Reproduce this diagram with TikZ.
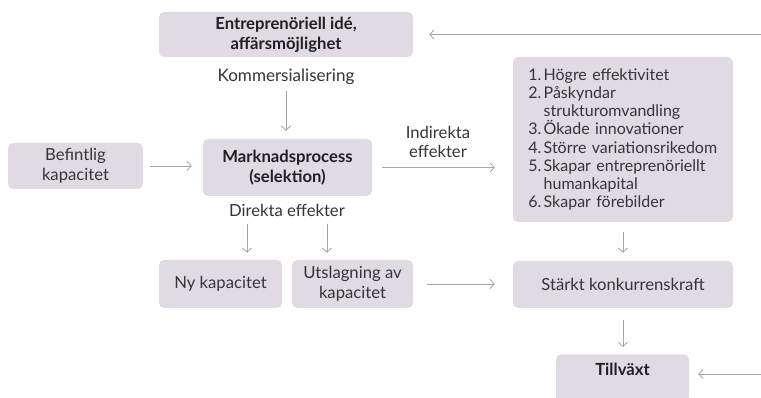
\documentclass[tikz,border=0pt]{standalone}
\usepackage{fontspec}
\setmainfont{Lato}
\usetikzlibrary{arrows.meta,calc}
\definecolor{boxfill}{HTML}{E0DAE2}
\definecolor{textc}{HTML}{353535}
\definecolor{boldc}{HTML}{202020}
\definecolor{arrowc}{HTML}{A6A6A6}
\newcommand\numbox[1]{\hspace*{9pt}\makebox[11.5pt][l]{#1}}
\newcommand\numindent{\hspace*{20.5pt}}
\tikzset{
  box/.style={fill=boxfill, rounded corners=4pt, inner sep=0pt, align=center,
    text=textc, font=\fontsize{12.5}{15}\selectfont},
  boldbox/.style={box, text=boldc, font=\fontsize{12.5}{15}\selectfont\bfseries},
  lbl/.style={inner sep=0pt, align=center, text=textc, font=\fontsize{12.5}{14}\selectfont},
  lblone/.style={lbl, text height=9pt, text depth=2.5pt},
  arr/.style={draw=arrowc, line width=0.6pt, -{Straight Barb[length=3.2pt,width=7pt]}}
}
\begin{document}
\begin{tikzpicture}[x=0.75pt,y=-0.75pt]
\useasboundingbox[fill=white] (0,0) rectangle (761,398);
% boxes
\node[boldbox, minimum width=190.5pt, minimum height=33.75pt] (E) at (286,34.5) {Entreprenöriell idé,\\affärsmöjlighet};
\node[lblone, font=\fontsize{12.8}{14}\selectfont] (K) at (286,77) {Kommersialisering};
\node[boldbox, minimum width=126.75pt, minimum height=42.75pt] (M) at (287.5,167.5) {Marknadsprocess\\(selektion)};
\node[box, minimum width=101.25pt, minimum height=34.5pt] (B) at (75.5,166) {Befintlig\\kapacitet};
\node[lbl] (I) at (438,142) {Indirekta\\effekter};
\node[box, minimum width=165pt, minimum height=123.75pt, text width=160pt, inner xsep=2.5pt, align=left,
  font=\fontsize{12}{13.7}\selectfont] (L) at (623,139.5)
  {\numbox{1.}Högre effektivitet\\
   \numbox{2.}Påskyndar\\
   \numindent strukturomvandling\\
   \numbox{3.}Ökade innovationer\\
   \numbox{4.}Större variationsrikedom\\
   \numbox{5.}Skapar entreprenöriellt\\
   \numindent humankapital\\
   \numbox{6.}Skapar förebilder};
\node[lblone] (D) at (287,212) {Direkta effekter};
\node[box, minimum width=92.25pt, minimum height=36pt] (N) at (220.5,284) {Ny kapacitet};
\node[box, minimum width=90.75pt, minimum height=36pt] (U) at (352.5,284) {Utslagning av\\kapacitet};
\node[box, minimum width=165pt, minimum height=35.25pt] (S) at (623,284.5) {Stärkt konkurrenskraft};
\node[boldbox, anchor=north, minimum width=99.75pt, minimum height=36pt, text height=8.8pt, text depth=12.3pt] (T) at (622.5,354) {Tillväxt};
% coordinates
\coordinate (d1) at (247,0);
\coordinate (d2) at (327,0);
\coordinate (r1) at (761,34.5);
\coordinate (r2) at (761,374);
% connectors
\draw[arr, shorten <=4.3pt, shorten >=6pt] (K.south) -- (K.south |- M.north);
\draw[arr, shorten <=5.25pt, shorten >=8.25pt] (B.east) -- (B.east -| M.west);
\draw[arr, shorten <=7.5pt, shorten >=13.5pt] (M.east) -- (M.east -| L.west);
\draw[arr, shorten <=2.8pt, shorten >=5.25pt] (D.south -| d1) -- (N.north -| d1);
\draw[arr, shorten <=2.8pt, shorten >=5.25pt] (D.south -| d2) -- (U.north -| d2);
\draw[arr, shorten <=10.5pt, shorten >=13.5pt] (U.east) -- (U.east -| S.west);
\draw[arr, shorten <=7.5pt, shorten >=6pt] (L.south) -- (S.north);
\draw[arr, shorten <=9pt, shorten >=5.25pt] (S.south) -- (S.south |- T.north);
\draw[arr, shorten >=12pt] (r1) -- (E.east);
\draw[arr, shorten >=6.75pt] (r2) -- (r2 -| T.east);
\end{tikzpicture}
\end{document}
